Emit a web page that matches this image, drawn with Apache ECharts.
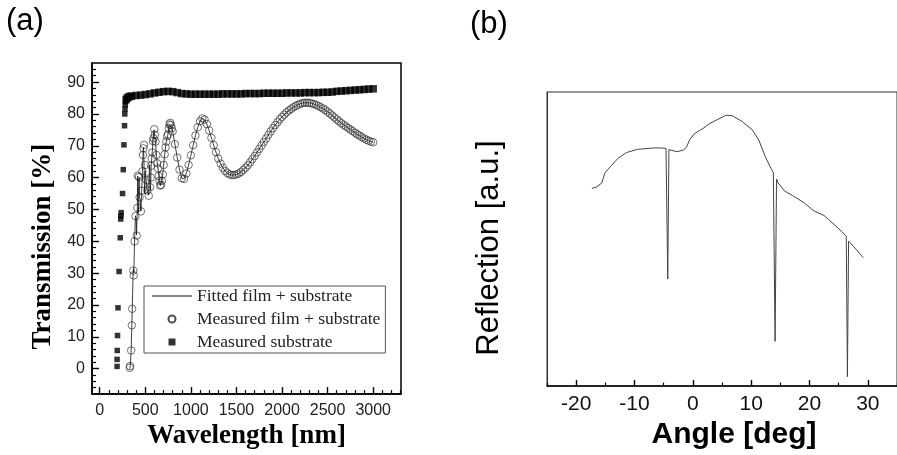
<!DOCTYPE html>
<html>
<head>
<meta charset="utf-8">
<script src="https://cdn.jsdelivr.net/npm/echarts@6/dist/echarts.min.js"></script>
<style>
  html, body { margin: 0; padding: 0; background: #fff; }
  #chart { width: 897px; height: 455px; }
</style>
</head>
<body>
<div id="chart"></div>
<script>
// ---- (a) Transmission spectra ----
// Measured substrate transmission (nm, %)
const subWl = [190, 190, 192, 195, 200, 212, 225, 230, 232, 235, 250, 258, 265, 272, 275, 277, 280, 284, 290, 300,
  315, 330, 350, 400, 450, 500, 550, 600, 650, 700, 750, 800, 850, 900, 950, 1000, 1050, 1100, 1150, 1200,
  1250, 1300, 1350, 1400, 1450, 1500, 1550, 1600, 1650, 1700, 1750, 1800, 1850, 1900, 1950, 2000, 2050, 2100,
  2150, 2200, 2250, 2300, 2350, 2400, 2450, 2500, 2550, 2600, 2650, 2700, 2750, 2800, 2850, 2900, 2950, 3000];
const subT = [0.7, 2.9, 5.7, 10.4, 19.1, 30.5, 41.1, 47.0, 48.0, 49.0, 55.0, 62.5, 70.3, 76.3, 80.0, 81.5, 82.8, 83.8, 84.5, 85.0,
  85.3, 85.5, 85.6, 85.8, 85.9, 86.1, 86.3, 86.6, 86.8, 87.0, 87.1, 87.0, 86.7, 86.4, 86.3, 86.2, 86.2, 86.2, 86.2, 86.2,
  86.2, 86.2, 86.3, 86.3, 86.3, 86.3, 86.3, 86.4, 86.4, 86.4, 86.4, 86.5, 86.5, 86.5, 86.5, 86.5, 86.6, 86.6,
  86.6, 86.6, 86.7, 86.7, 86.7, 86.7, 86.8, 86.8, 86.9, 87.1, 87.2, 87.3, 87.4, 87.5, 87.6, 87.7, 87.8, 87.9];

// Measured film + substrate transmission (nm, %)
const filmWl = [329, 333, 345, 352, 356, 368, 372, 382, 392, 405, 412, 418, 430, 437, 452, 460, 468, 474, 480, 486,
  498, 510, 522, 538, 552, 560, 564, 570, 576, 584, 590, 598, 605, 612, 622, 630, 638, 646, 655, 663,
  672, 682, 692, 702, 712, 722, 730, 740, 748, 757, 765, 773, 782, 790,
  800, 825, 850, 875, 900, 925, 950, 975, 1000, 1025, 1050, 1075, 1100, 1125, 1150, 1175, 1200, 1225, 1250, 1275,
  1300, 1325, 1350, 1375, 1400, 1425, 1450, 1475, 1500, 1525, 1550, 1575, 1600, 1625, 1650, 1675, 1700, 1725,
  1750, 1775, 1800, 1825, 1850, 1875, 1900, 1925, 1950, 1975, 2000, 2025, 2050, 2075, 2100, 2125, 2150, 2175,
  2200, 2225, 2250, 2275, 2300, 2325, 2350, 2375, 2400, 2425, 2450, 2475, 2500, 2525, 2550, 2575, 2600, 2625,
  2650, 2675, 2700, 2725, 2750, 2775, 2800, 2825, 2850, 2875, 2900, 2925, 2950, 2975, 3000];
const filmT = [0.3, 0.8, 5.7, 13.6, 18.8, 30.8, 29.3, 40.0, 47.9, 41.8, 50.5, 60.6, 60.2, 53.8, 49.4, 55.9, 62.0, 67.1, 69.2, 70.3,
  64.0, 59.3, 56.0, 54.3, 57.0, 60.0, 63.7, 66.0, 67.9, 71.5, 72.4, 75.2, 73.5, 71.3, 67.1, 64.5, 62.9, 60.5, 59.0, 57.5,
  57.7, 59.0, 61.0, 64.0, 67.3, 69.5, 71.3, 73.0, 73.6, 75.5, 76.7, 77.2, 76.5, 75.5,
  74.5, 70.5, 66.3, 62.5, 59.8, 59.6, 61.3, 64.0, 67.0, 70.2, 73.2, 75.8, 77.7, 78.6, 78.2, 76.8, 74.8, 72.5, 70.2, 68.0,
  66.0, 64.4, 63.1, 62.1, 61.4, 61.0, 60.8, 60.8, 61.0, 61.3, 61.8, 62.4, 63.1, 63.9, 64.8, 65.8, 66.8, 67.9,
  69.0, 70.1, 71.2, 72.3, 73.4, 74.5, 75.5, 76.5, 77.4, 78.3, 79.1, 79.8, 80.5, 81.1, 81.6, 82.1, 82.5, 82.9,
  83.2, 83.4, 83.5, 83.5, 83.5, 83.3, 83.1, 82.8, 82.5, 82.1, 81.7, 81.2, 80.7, 80.1, 79.5, 78.9, 78.3, 77.7,
  77.1, 76.6, 76.1, 75.6, 75.1, 74.6, 74.1, 73.6, 73.2, 72.7, 72.3, 71.9, 71.6, 71.3, 71.1];

// Fitted curve in the short-wavelength region; above 800 nm it follows the measurement
const fitWl = [329, 335, 345, 352, 357, 366, 370, 374, 382, 392, 400, 403, 407, 412, 417, 420, 423, 427, 432, 436,
  445, 452, 455, 460, 468, 474, 480, 484, 486, 490, 494, 500, 510, 520, 528, 536, 542, 548, 553, 558,
  564, 570, 576, 584, 592, 596, 602, 612, 622, 638, 655, 665, 675, 692, 712, 730, 748, 765, 773, 782, 790];
const fitT = [0.0, 1.0, 5.7, 13.6, 19.0, 30.0, 31.5, 30.0, 40.0, 48.0, 47.0, 42.0, 41.5, 50.0, 60.5, 61.0, 50.0, 49.0, 60.0, 54.0,
  53.0, 49.5, 49.0, 56.0, 62.0, 67.0, 69.5, 70.0, 64.0, 58.0, 55.0, 62.0, 59.0, 56.0, 55.5, 54.5, 60.0, 64.0, 56.0, 57.0,
  63.5, 66.0, 68.0, 71.5, 74.0, 75.0, 73.0, 71.0, 67.0, 63.0, 59.0, 57.5, 58.0, 61.0, 67.3, 71.3, 73.6, 76.5, 77.0, 76.5, 75.5];

const xTicksA = [0, 500, 1000, 1500, 2000, 2500, 3000];
const yTicksA = [0, 10, 20, 30, 40, 50, 60, 70, 80, 90];

// ---- (b) Reflection vs angle ----
const angleDeg = [-17.3, -16.5, -15.6, -15.1, -14.2, -12.8, -11.4, -9.5, -7.2, -6.0, -5.0, -4.6, -4.3, -4.1, -3.9, -2.7, -1.6, -1.1, -0.5, 0.3,
  1.75, 2.9, 4.3, 5.7, 6.8, 8.5, 10.2, 11.3, 12.4, 13.5, 13.8, 14.1, 14.35, 14.6, 15.75, 17.1, 19.1, 20.8, 22.5, 24.2,
  25.6, 26.3, 26.5, 26.7, 27.5, 29.2];
const reflect = [67.2, 67.7, 69.1, 72.4, 74.5, 77.5, 79.4, 80.5, 80.9, 81.0, 80.9, 80.8, 36.4, 80.4, 80.3, 79.7, 80.3, 81.2, 83.9, 85.9,
  87.6, 89.3, 90.7, 92.1, 91.9, 89.9, 87.1, 83.7, 78.1, 73.6, 72.6, 15.2, 70.4, 69.1, 66.3, 64.8, 62.3, 59.5, 58.0, 55.0,
  52.4, 51.0, 3.2, 49.3, 47.6, 43.7];
const xTicksB = [-20, -10, 0, 10, 20, 30];

const zip = (xs, ys) => xs.map((x, i) => [x, ys[i]]);
const minorBetween = (start, end, step, major) => {
  const out = [];
  for (let v = start; v <= end + 1e-9; v += step) {
    const r = Math.round(v * 1000) / 1000;
    if (major.indexOf(r) < 0) out.push(r);
  }
  return out;
};
const plain = v => String(v);

const fitData = zip(fitWl, fitT).concat(zip(filmWl, filmT).filter(p => p[0] >= 800));

const sans = 'Liberation Sans, Arial, sans-serif';
const serif = 'Liberation Serif, Times New Roman, serif';

const xMinA = -85, xMaxA = 3305, yMinA = -8, yMaxA = 96;
const xMinB = -25, xMaxB = 35;

const majorTick = { color: '#000', width: 1.4 };
const minorTick = { color: '#000', width: 1.2 };

const chart = echarts.init(document.getElementById('chart'));
chart.setOption({
  animation: false,
  backgroundColor: '#fff',
  title: [
    { text: '(a)', left: 6, top: 6, padding: 0, textStyle: { fontFamily: sans, fontSize: 31, fontWeight: 'normal', color: '#000' } },
    { text: '(b)', left: 470, top: 9, padding: 0, textStyle: { fontFamily: sans, fontSize: 31, fontWeight: 'normal', color: '#000' } }
  ],
  legend: {
    data: [
      { name: 'Fitted film + substrate', icon: 'path://M0,0H40V1H0Z' },
      { name: 'Measured film + substrate' },
      { name: 'Measured substrate', icon: 'path://M0,0H10V10H0Z' }
    ],
    orient: 'vertical',
    left: 144, top: 286,
    padding: [1, 5, 2, 8],
    itemWidth: 40, itemHeight: 7, itemGap: 5,
    symbolKeepAspect: true,
    borderColor: '#555', borderWidth: 1,
    textStyle: { fontFamily: serif, fontSize: 17.5, color: '#222' }
  },
  grid: [
    { left: 92, top: 63, width: 309, height: 332, show: true, borderColor: '#000', borderWidth: 1.5, backgroundColor: 'transparent' },
    { left: 547, top: 92, width: 357, height: 296, show: true, borderColor: '#333', borderWidth: 1, backgroundColor: 'transparent' }
  ],
  xAxis: [
    { gridIndex: 0, type: 'value', position: 'bottom', min: xMinA, max: xMaxA,
      axisLine: { show: true, onZero: false, lineStyle: { color: '#000', width: 1.5 } },
      axisTick: { show: true, inside: true, length: 7, customValues: xTicksA, lineStyle: majorTick },
      axisLabel: { show: true, customValues: xTicksA, formatter: plain, margin: 8, fontFamily: sans, fontSize: 16, color: '#222' },
      splitLine: { show: false },
      name: 'Wavelength [nm]', nameLocation: 'middle', nameGap: 28,
      nameTextStyle: { fontFamily: serif, fontSize: 27, fontWeight: 'bold', color: '#000' } },
    { gridIndex: 0, type: 'value', position: 'bottom', min: xMinA, max: xMaxA,
      axisLine: { show: false, onZero: false },
      axisTick: { show: true, inside: true, length: 4, customValues: minorBetween(0, 3300, 100, xTicksA), lineStyle: minorTick },
      axisLabel: { show: false }, splitLine: { show: false } },
    { gridIndex: 1, type: 'value', position: 'bottom', min: xMinB, max: xMaxB,
      axisLine: { show: true, onZero: false, lineStyle: { color: '#000', width: 1.5 } },
      axisTick: { show: true, inside: true, length: 6, customValues: xTicksB, lineStyle: majorTick },
      axisLabel: { show: true, customValues: xTicksB, formatter: plain, margin: 8, fontFamily: sans, fontSize: 21, color: '#111' },
      splitLine: { show: false },
      name: 'Angle [deg]', nameLocation: 'middle', nameGap: 32,
      nameTextStyle: { fontFamily: sans, fontSize: 30, fontWeight: 'bold', color: '#000', padding: [0, 0, 0, 24] } },
    { gridIndex: 1, type: 'value', position: 'bottom', min: xMinB, max: xMaxB,
      axisLine: { show: false, onZero: false },
      axisTick: { show: true, inside: true, length: 3.5, customValues: minorBetween(-25, 35, 5, xTicksB), lineStyle: minorTick },
      axisLabel: { show: false }, splitLine: { show: false } }
  ],
  yAxis: [
    { gridIndex: 0, type: 'value', position: 'left', min: yMinA, max: yMaxA,
      axisLine: { show: true, onZero: false, lineStyle: { color: '#000', width: 1.5 } },
      axisTick: { show: true, inside: true, length: 7, customValues: yTicksA, lineStyle: majorTick },
      axisLabel: { show: true, customValues: yTicksA, formatter: plain, margin: 7, fontFamily: sans, fontSize: 16, color: '#222' },
      splitLine: { show: false },
      name: 'Transmission [%]', nameLocation: 'middle', nameGap: 35,
      nameTextStyle: { fontFamily: serif, fontSize: 27, fontWeight: 'bold', color: '#000', padding: [0, 36, 0, 0] } },
    { gridIndex: 0, type: 'value', position: 'left', min: yMinA, max: yMaxA,
      axisLine: { show: false, onZero: false },
      axisTick: { show: true, inside: true, length: 4, customValues: minorBetween(-6, 94, 2, yTicksA), lineStyle: minorTick },
      axisLabel: { show: false }, splitLine: { show: false } },
    { gridIndex: 1, type: 'value', position: 'left', min: 0, max: 100,
      axisLine: { show: true, onZero: false, lineStyle: { color: '#333', width: 1 } },
      axisTick: { show: false }, axisLabel: { show: false }, splitLine: { show: false },
      name: 'Reflection [a.u.]', nameLocation: 'middle', nameGap: 42,
      nameTextStyle: { fontFamily: sans, fontSize: 31, fontWeight: 'normal', color: '#000', padding: [0, 18, 0, 0] } }
  ],
  series: [
    { name: 'Measured substrate', type: 'scatter', xAxisIndex: 0, yAxisIndex: 0,
      symbol: 'rect',
      // the densely sampled plateau reads as a thick band
      symbolSize: v => (v[1] > 84 ? 7.5 : 5.5),
      itemStyle: { color: '#000' }, data: zip(subWl, subT), z: 2 },
    { name: 'Measured film + substrate', type: 'scatter', xAxisIndex: 0, yAxisIndex: 0,
      symbol: 'circle', symbolSize: 7.5,
      itemStyle: { color: 'rgba(0,0,0,0)', borderColor: '#222', borderWidth: 0.8 },
      data: zip(filmWl, filmT), z: 2 },
    { name: 'Fitted film + substrate', type: 'line', xAxisIndex: 0, yAxisIndex: 0,
      symbol: 'none', lineStyle: { color: '#111', width: 0.8 }, itemStyle: { color: '#111' },
      data: fitData, z: 3 },
    { name: 'Reflection', type: 'line', xAxisIndex: 2, yAxisIndex: 2,
      symbol: 'none', lineStyle: { color: '#444', width: 1 }, data: zip(angleDeg, reflect), z: 3 }
  ]
});
</script>
</body>
</html>
